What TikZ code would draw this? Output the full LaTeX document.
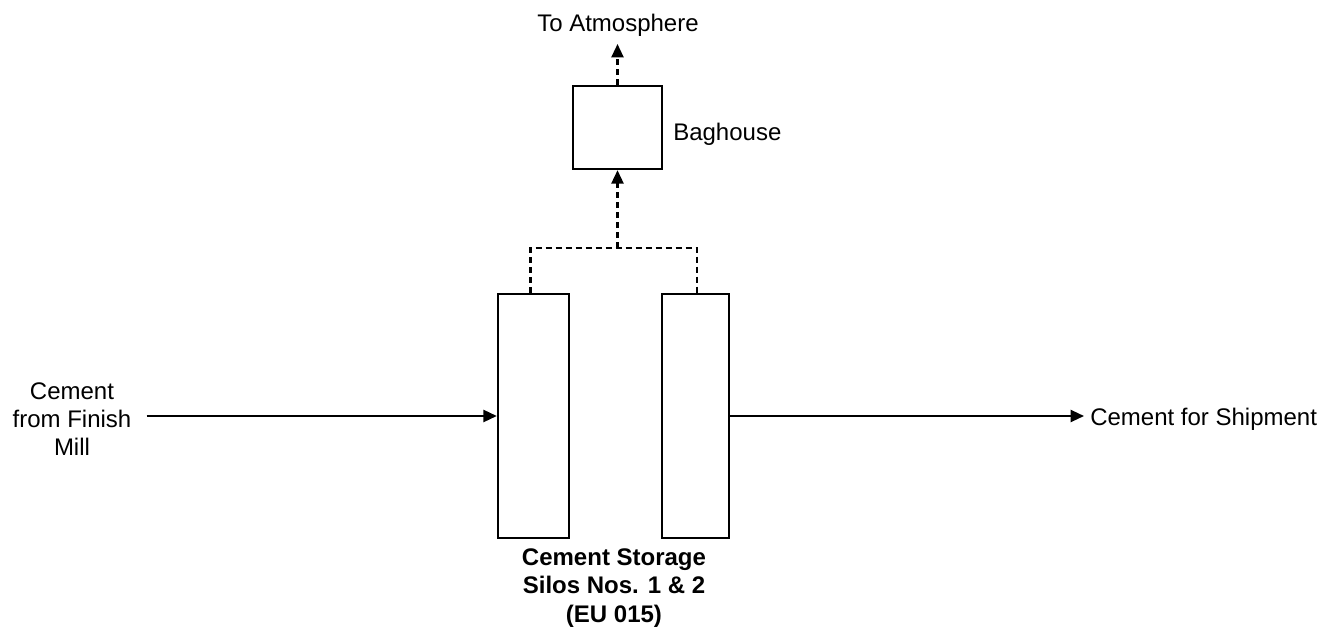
\documentclass[tikz,border=0pt]{standalone}
\usepackage{fontspec}
\setmainfont{Liberation Sans}
\usepackage{tikz}
\usetikzlibrary{arrows.meta, positioning, calc}
\tikzset{
	silo/.style     ={rectangle, draw=black, line width=1.8pt, minimum height=183pt, inner sep=0pt},
	unit/.style     ={rectangle, draw=black, line width=1.8pt, minimum width=66.75pt, minimum height=62.25pt, inner sep=0pt},
	lbl/.style      ={align=center, inner sep=0pt, font=\fontsize{18}{21}\selectfont},
	flowarrow/.style={-{Triangle[length=10pt, width=9pt]}, line width=1.6pt},
	airflow/.style  ={line width=1.6pt, dash pattern=on 4.5pt off 3pt},
}
\begin{document}
\begin{tikzpicture}[x=0.75pt, y=-0.75pt]
	\useasboundingbox (0,0) rectangle (1324,631);
	% silos and baghouse
	\node[silo, minimum width=53.25pt] (silo1) at (533.5,416) {};
	\node[silo, minimum width=50.25pt] (silo2) at (695.5,416) {};
	\node[unit] (bag) at (617.5,127.5) {};
	\coordinate (jn) at (617.5,248);
	\coordinate (atm) at (617.5,44);
	% labels
	\node[lbl] (top) at (618,25) {To Atmosphere};
	\node[lbl, anchor=west] (baglbl) at (673,134) {Baghouse};
	\node[lbl] (feed) at (72,419) {Cement\\from Finish\\Mill};
	\node[lbl, anchor=west] (ship) at (1090,419) {Cement for Shipment};
	\node[lbl, font=\fontsize{18}{21.5}\selectfont\bfseries] (silolbl) at (614,588) {Cement Storage\\Silos Nos. 1 \& 2\\(EU 015)};
	% cement flow
	\draw[flowarrow] (feed.east |- silo1.west) ++(15,0) -- (silo1.west);
	\draw[flowarrow] (silo2.east) -- ($(ship.west |- silo2.east)+(-6,0)$);
	% vent air
	\draw[airflow] ($(silo1.north)+(-3,0)$) |- (jn) -| ($(silo2.north)+(1.5,0)$);
	\draw[airflow, -{Triangle[length=10pt, width=9pt]}] (jn) -- (bag.south);
	\draw[airflow, -{Triangle[length=10pt, width=9pt]}] (bag.north) -- (atm);
\end{tikzpicture}
\end{document}
